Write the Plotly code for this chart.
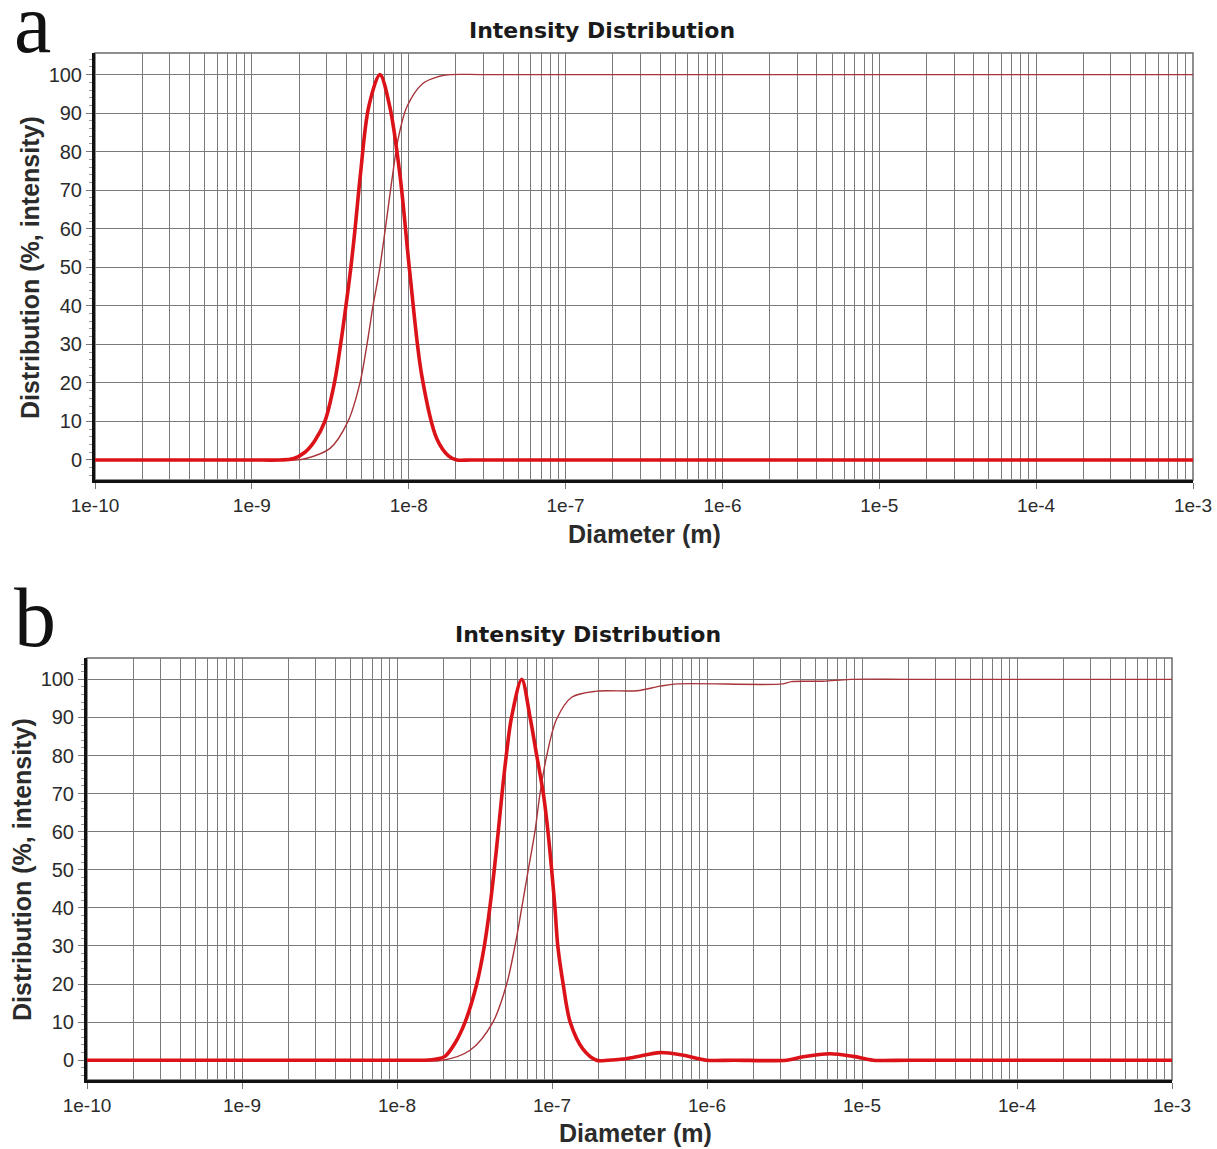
import plotly.graph_objects as go

# ---- Sample a: size distribution by intensity ----
a_diameter = [1e-10, 5e-10, 1e-9, 1.5e-9, 1.83e-9, 2.18e-9, 2.52e-9, 2.92e-9, 3.36e-9,
              3.68e-9, 3.98e-9, 4.28e-9, 4.55e-9, 4.92e-9, 5.55e-9, 6.55e-9, 7.59e-9,
              8.79e-9, 1.02e-8, 1.21e-8, 1.51e-8, 1.8e-8, 2.03e-8, 2.5e-8, 5e-8, 1e-6,
              1e-4, 1e-3]
a_intensity = [0, 0, 0, 0, 0.3, 2, 5, 10, 20,
               30, 40, 50, 60, 74, 91.5, 100, 91.5,
               74, 48, 22, 5.5, 1, 0, 0, 0, 0,
               0, 0]

a_cum_diameter = [1e-10, 1e-9, 1.9e-9, 2.18e-9, 3.15e-9, 4.10e-9, 4.89e-9, 5.42e-9,
                  5.92e-9, 6.55e-9, 7.93e-9, 8.53e-9, 9.75e-9, 1.23e-8, 1.55e-8,
                  1.83e-8, 3e-8, 1e-6, 1e-4, 1e-3]
a_cumulative = [0, 0, 0, 0.3, 3, 10, 20, 30,
                40, 50, 74.5, 83, 91.7, 97.7, 99.5,
                100, 100, 100, 100, 100]

# ---- Sample b: size distribution by intensity ----
b_diameter = [1e-10, 1e-9, 5e-9, 1e-8, 1.5e-8, 1.81e-8, 2.04e-8, 2.37e-8, 2.75e-8,
              3.27e-8, 3.66e-8, 3.97e-8, 4.24e-8, 4.50e-8, 4.76e-8, 5.07e-8, 5.48e-8,
              6.38e-8, 7.22e-8, 7.97e-8, 8.79e-8, 9.42e-8, 9.95e-8, 1.045e-7, 1.09e-7,
              1.18e-7, 1.31e-7, 1.58e-7, 1.94e-7, 2.3e-7, 2.87e-7, 3.52e-7, 4.97e-7,
              7.03e-7, 9.95e-7, 1.5e-6, 3.27e-6, 4.18e-6, 6.22e-6, 8.79e-6, 1.18e-5,
              2e-5, 1e-4, 1e-3]
b_intensity = [0, 0, 0, 0, 0, 0.3, 1, 4.5, 10,
               20, 30, 40, 50, 60, 70, 80, 90,
               100, 90, 80, 70, 60, 50, 40, 30,
               20, 10, 3, 0, 0, 0.3, 0.9, 2.0,
               1.3, 0, 0, 0, 0.9, 1.7, 1.0, 0,
               0, 0, 0]

b_cum_diameter = [1e-10, 1e-9, 1e-8, 1.98e-8, 2.96e-8, 4.16e-8, 5.10e-8, 5.77e-8,
                  6.38e-8, 7.03e-8, 7.76e-8, 8.37e-8, 9.25e-8, 1.07e-7, 1.34e-7,
                  1.94e-7, 3.53e-7, 4.97e-7, 6.38e-7, 3.09e-6, 3.5e-6, 5.6e-6,
                  8.4e-6, 2e-5, 1e-4, 1e-3]
b_cumulative = [0, 0, 0, 0, 2.6, 10, 20, 30,
                40, 50, 60, 70, 80, 89.5, 95.3,
                96.9, 97.0, 98.2, 98.8, 98.8, 99.4, 99.5,
                100, 100, 100, 100]

# ---- Axis labels ----
decade_values = [1e-10, 1e-9, 1e-8, 1e-7, 1e-6, 1e-5, 1e-4, 1e-3]
decade_labels = ["1e-10", "1e-9", "1e-8", "1e-7", "1e-6", "1e-5", "1e-4", "1e-3"]
minor_values = [m * 10.0 ** e for e in range(-10, -3) for m in range(2, 10)]
y_values = list(range(0, 101, 10))
y_labels = [str(v) for v in y_values]

chart_title = "Intensity Distribution"
x_title = "Diameter (m)"
y_title = "Distribution (%, intensity)"

W, H = 1217, 1149
PEAK_RED = "#dc1219"
CUM_RED = "#a8343a"
GRID = "#7a7a7a"
TEXT = "#2b2b2b"
FONT = "Liberation Sans, Arial, sans-serif"

# per-panel layout in pixels
panel_boxes = {
    # left, right, top, bottom
    "a": (95, 1193, 53, 480),
    "b": (87, 1172, 658, 1080),
}
panel_text_pos = {
    # title centre x, title y, x-title centre x, x-title y, y-title x, y-title y, letter baseline
    "a": (602, 31, 644, 534, 30, 268, 52),
    "b": (588, 634, 635, 1133, 22, 870, 645),
}

fig = go.Figure()

panels = [
    ("a", "x", "y", a_diameter, a_intensity, a_cum_diameter, a_cumulative),
    ("b", "x2", "y2", b_diameter, b_intensity, b_cum_diameter, b_cumulative),
]

for key, xr, yr, d, inten, cd, cum in panels:
    fig.add_trace(go.Scatter(
        x=cd, y=cum, xaxis=xr, yaxis=yr, mode="lines",
        line=dict(color=CUM_RED, width=1.4, shape="spline", smoothing=0.9),
        showlegend=False, hoverinfo="skip"))
    fig.add_trace(go.Scatter(
        x=d, y=inten, xaxis=xr, yaxis=yr, mode="lines",
        line=dict(color=PEAK_RED, width=3.6, shape="spline", smoothing=0.9),
        showlegend=False, hoverinfo="skip"))


def x_axis(box, anchor):
    l, r, t, b = box
    return dict(
        type="log", range=[-10, -3], domain=[l / W, r / W], anchor=anchor,
        automargin=False,
        tickmode="array", tickvals=decade_values, ticktext=decade_labels,
        ticks="outside", ticklen=6, tickwidth=1, tickcolor="#777",
        tickfont=dict(family=FONT, size=19, color=TEXT),
        showgrid=True, gridcolor=GRID, gridwidth=1.3,
        minor=dict(tickmode="array", tickvals=minor_values, showgrid=True,
                   gridcolor=GRID, gridwidth=1.3, ticks=""),
        showline=True, linecolor="#111", linewidth=3,
        zeroline=False, fixedrange=True,
    )


def y_axis(box, anchor):
    l, r, t, b = box
    return dict(
        range=[-5.2, 105.6], domain=[1 - b / H, 1 - t / H], anchor=anchor,
        automargin=False,
        tickmode="array", tickvals=y_values, ticktext=y_labels,
        ticks="outside", ticklen=6, tickwidth=1, tickcolor="#777",
        tickfont=dict(family=FONT, size=20, color=TEXT),
        showgrid=True, gridcolor=GRID, gridwidth=1.3,
        minor=dict(dtick=2, ticks="outside", ticklen=3, tickcolor="#999",
                   showgrid=False),
        showline=True, linecolor="#111", linewidth=3,
        zeroline=False, fixedrange=True,
    )


fig.update_layout(
    width=W, height=H,
    margin=dict(l=0, r=0, t=0, b=0),
    paper_bgcolor="white", plot_bgcolor="white",
    xaxis=x_axis(panel_boxes["a"], "y"), yaxis=y_axis(panel_boxes["a"], "x"),
    xaxis2=x_axis(panel_boxes["b"], "y2"), yaxis2=y_axis(panel_boxes["b"], "x2"),
)

annotations = []
shapes = []
for key, xr, yr in [("a", "x", "y"), ("b", "x2", "y2")]:
    tx, ty, xtx, xty, ytx, yty, base = panel_text_pos[key]
    # thin frame along the top and right edges
    shapes.append(dict(type="rect", xref=f"{xr} domain", yref=f"{yr} domain",
                       x0=0, x1=1, y0=0, y1=1, layer="below",
                       line=dict(color="#6a6a6a", width=1.5)))
    annotations.append(dict(text=f"<b>{chart_title}</b>", xref="paper", yref="paper",
                            x=tx / W, y=1 - ty / H, showarrow=False,
                            font=dict(family="DejaVu Sans", size=22, color="#1a1a1a"),
                            xanchor="center", yanchor="middle"))
    annotations.append(dict(text=f"<b>{x_title}</b>", xref="paper", yref="paper",
                            x=xtx / W, y=1 - xty / H, showarrow=False,
                            font=dict(family=FONT, size=25, color=TEXT),
                            xanchor="center", yanchor="middle"))
    annotations.append(dict(text=f"<b>{y_title}</b>", xref="paper", yref="paper",
                            x=ytx / W, y=1 - yty / H, showarrow=False,
                            textangle=-90,
                            font=dict(family=FONT, size=25, color=TEXT),
                            xanchor="center", yanchor="middle"))
    annotations.append(dict(text=key, xref="paper", yref="paper",
                            x=12 / W, y=1 - (base - 28) / H, showarrow=False,
                            font=dict(family="Liberation Serif, Times New Roman, serif",
                                      size=84, color="#111"),
                            xanchor="left", yanchor="middle"))

fig.update_layout(annotations=annotations, shapes=shapes)
fig.write_html("out.html")
